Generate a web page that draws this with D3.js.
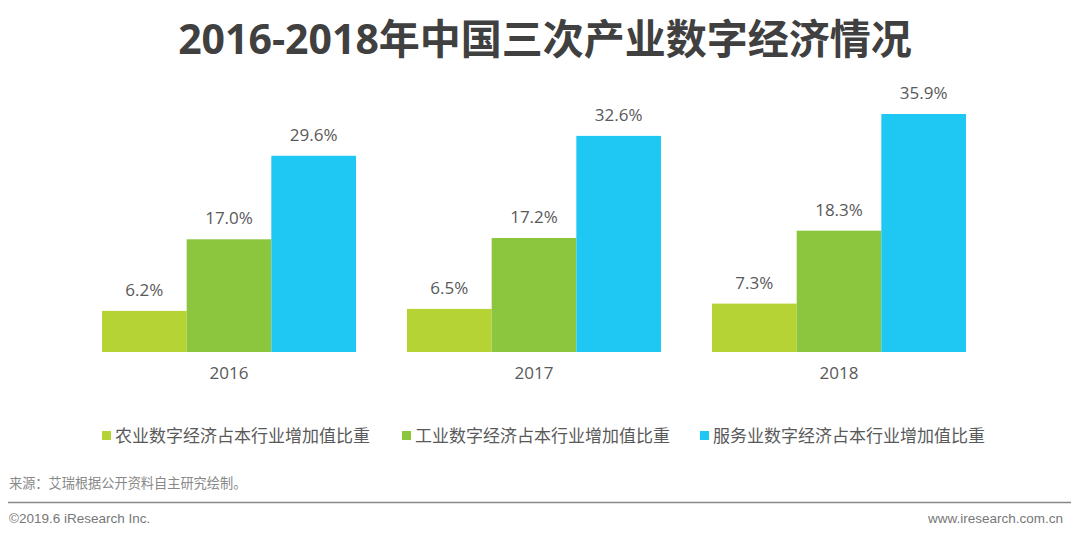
<!DOCTYPE html>
<html>
<head>
<meta charset="utf-8">
<script src="https://cdn.jsdelivr.net/npm/d3@7"></script>
<style>
  body { margin: 0; background: #fff; }
  text { font-family: "Open Sans", "Noto Sans CJK SC", sans-serif; }
</style>
</head>
<body>
<div id="chart"></div>
<script>
const years = ['2016', '2017', '2018'];
const seriesNames = ['农业数字经济占本行业增加值比重', '工业数字经济占本行业增加值比重', '服务业数字经济占本行业增加值比重'];
const agriculture = [6.2, 6.5, 7.3];
const industry = [17.0, 17.2, 18.3];
const services = [29.6, 32.6, 35.9];
const colors = ['#b5d334', '#8cc63f', '#1fc8f2'];

const W = 1080, H = 538;
const base = 352;

const svg = d3.select('#chart').append('svg')
  .attr('width', W).attr('height', H);

svg.append('text')
  .attr('x', 545).attr('y', 54)
  .attr('text-anchor', 'middle')
  .attr('font-size', 41).attr('font-weight', 'bold')
  .attr('fill', '#404040')
  .text('2016-2018年中国三次产业数字经济情况');

// step 305, group width 254
const x0 = d3.scaleBand().domain(years).range([76.5, 991.5])
  .paddingInner(51 / 305).paddingOuter(25.5 / 305);
const x1 = d3.scaleBand().domain(d3.range(3)).range([0, x0.bandwidth()]);
const y = d3.scaleLinear().domain([0, 35.9]).range([base, 114]);

const rows = years.map((yr, i) => ({ year: yr, values: [agriculture[i], industry[i], services[i]] }));

const g = svg.selectAll('g.group').data(rows).enter().append('g')
  .attr('class', 'group')
  .attr('transform', d => 'translate(' + x0(d.year) + ',0)');

g.selectAll('rect').data(d => d.values).enter().append('rect')
  .attr('x', (d, i) => x1(i))
  .attr('width', x1.bandwidth())
  .attr('y', d => y(d))
  .attr('height', d => base - y(d))
  .attr('fill', (d, i) => colors[i]);

g.selectAll('text.val').data(d => d.values).enter().append('text')
  .attr('class', 'val')
  .attr('x', (d, i) => x1(i) + x1.bandwidth() / 2)
  .attr('y', d => y(d) - 15)
  .attr('text-anchor', 'middle')
  .attr('font-size', 17).attr('fill', '#595959')
  .text(d => d.toFixed(1) + '%');

// x axis
const xAxis = svg.append('g')
  .attr('transform', 'translate(0,' + base + ')')
  .call(d3.axisBottom(x0).tickSize(0).tickPadding(15));
xAxis.select('.domain').remove();
xAxis.selectAll('text').attr('font-size', 17).attr('fill', '#595959')
  .style('font-family', '"Open Sans", sans-serif');

// legend
const legendX = [102, 402, 700];
const leg = svg.selectAll('g.leg').data(seriesNames).enter().append('g')
  .attr('class', 'leg')
  .attr('transform', (d, i) => 'translate(' + legendX[i] + ',436)');
leg.append('rect').attr('x', 0).attr('y', -5).attr('width', 9).attr('height', 9)
  .attr('fill', (d, i) => colors[i]);
leg.append('text').attr('x', 13).attr('y', 6)
  .attr('font-size', 17).attr('fill', '#595959')
  .style('font-family', '"Noto Sans CJK SC", sans-serif')
  .text(d => d);

svg.append('text').attr('x', 9).attr('y', 488)
  .attr('font-size', 13.2).attr('fill', '#888')
  .style('font-family', '"Noto Sans CJK SC", sans-serif')
  .text('来源：艾瑞根据公开资料自主研究绘制。');

svg.append('line').attr('x1', 8).attr('x2', 1071).attr('y1', 502.5).attr('y2', 502.5)
  .attr('stroke', '#888').attr('stroke-width', 1.5);

svg.append('text').attr('x', 9).attr('y', 523)
  .attr('font-size', 13.5).attr('fill', '#777')
  .style('font-family', '"Liberation Sans", Arial, sans-serif')
  .text('©2019.6 iResearch Inc.');

svg.append('text').attr('x', 1063).attr('y', 523)
  .attr('text-anchor', 'end')
  .attr('font-size', 13.5).attr('fill', '#777')
  .style('font-family', '"Liberation Sans", Arial, sans-serif')
  .text('www.iresearch.com.cn');
</script>
</body>
</html>
